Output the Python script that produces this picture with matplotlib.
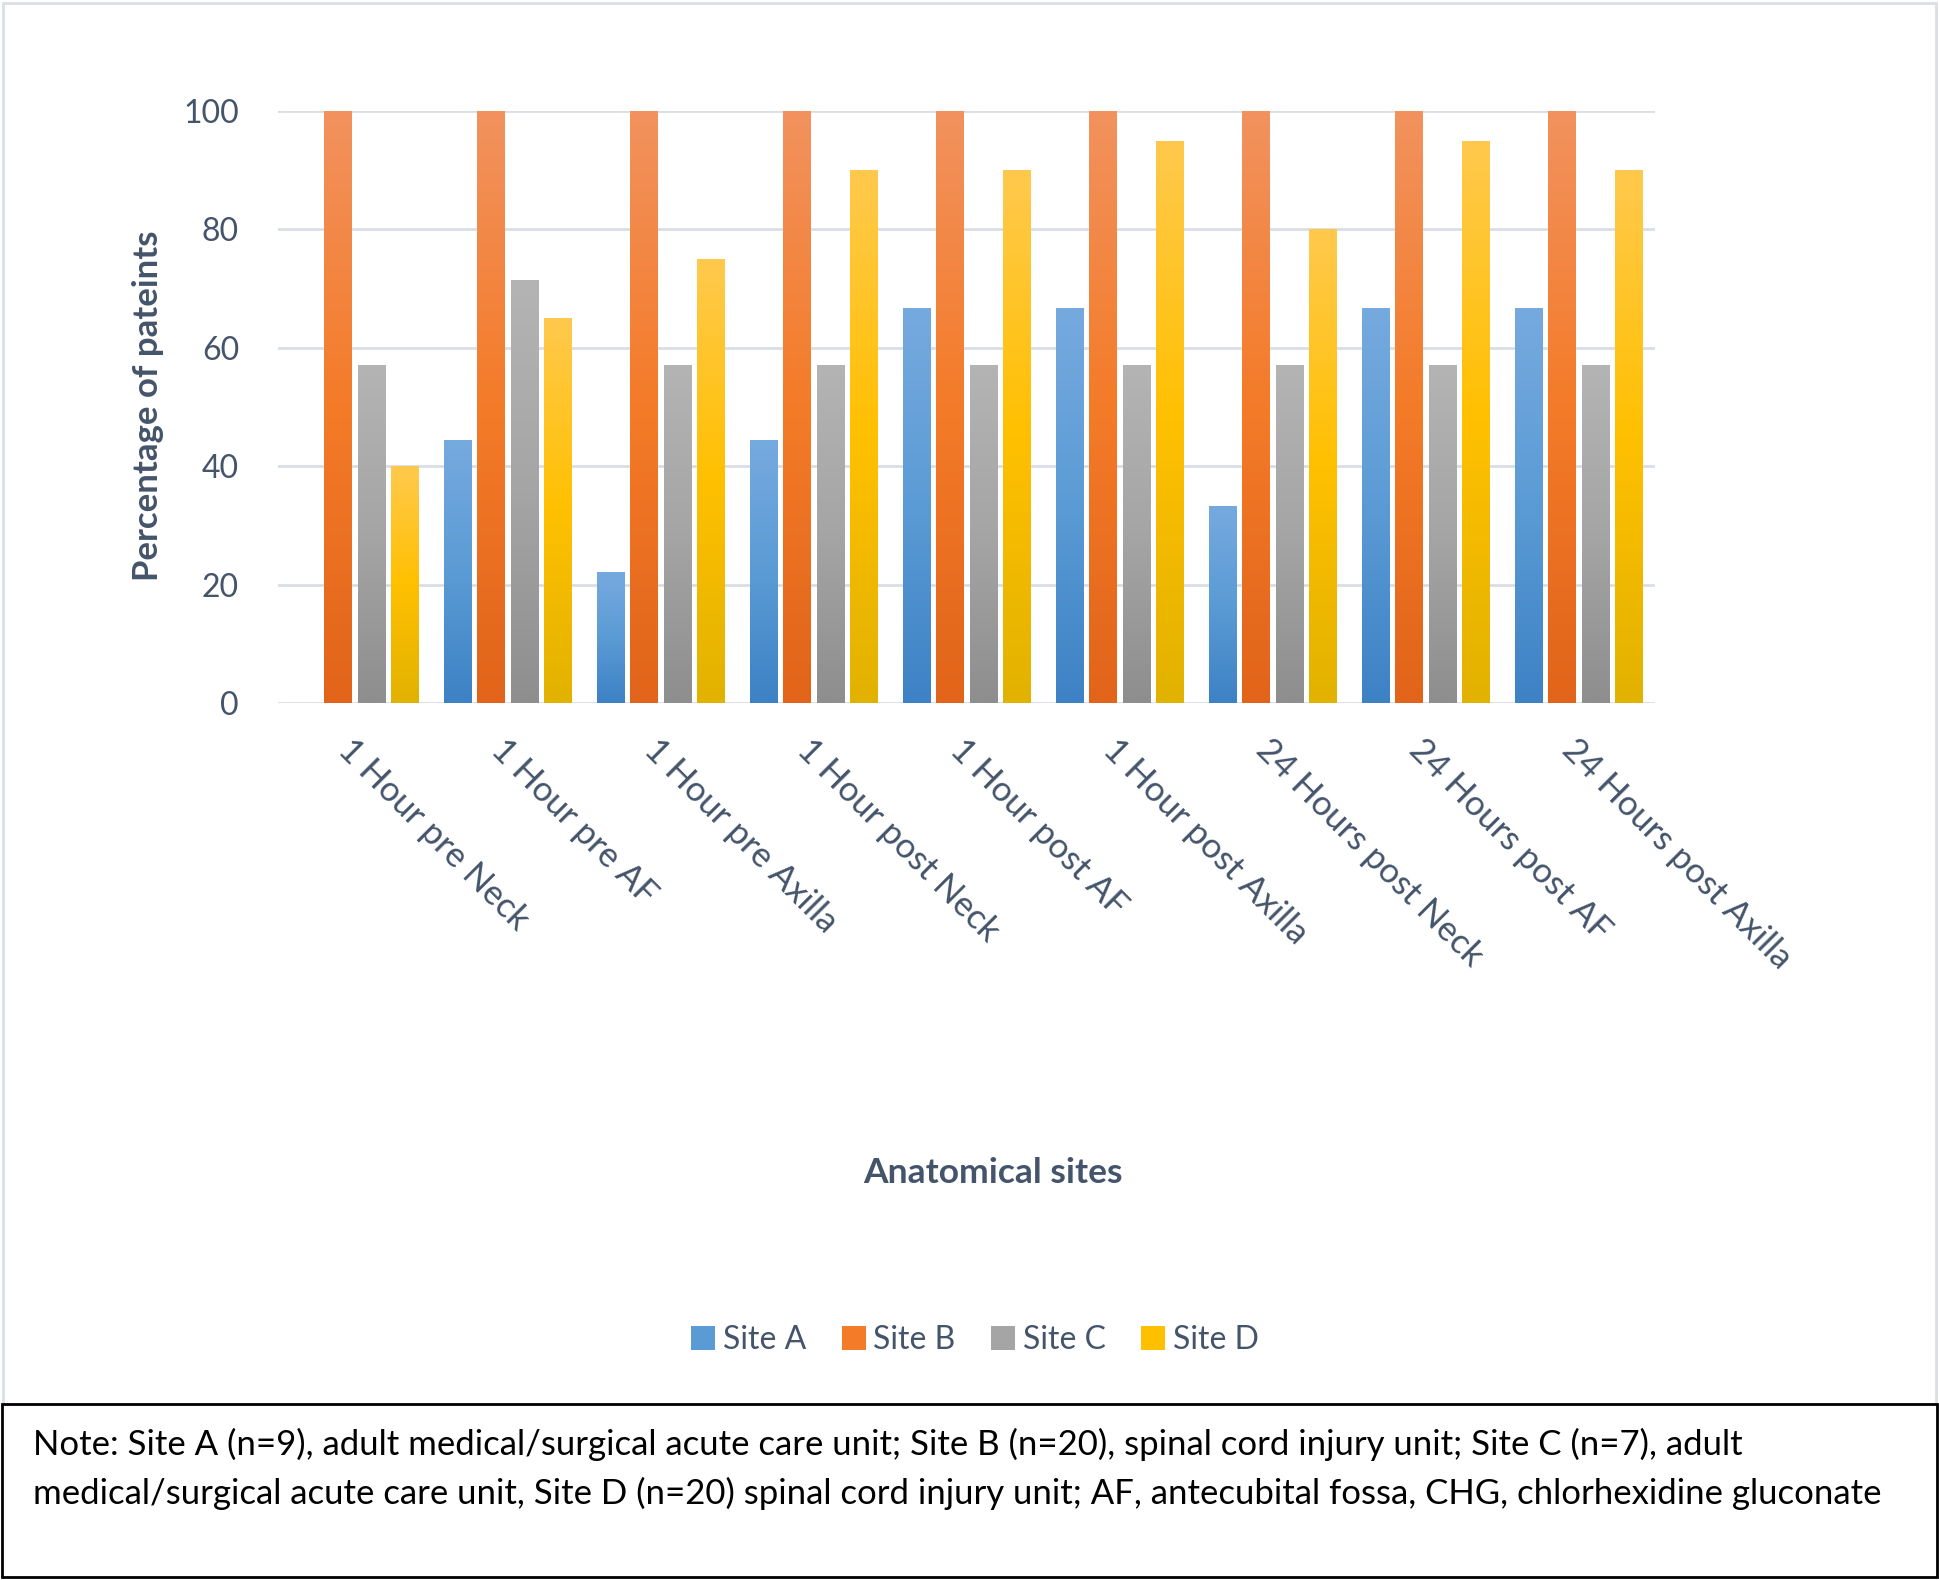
import matplotlib
matplotlib.use("Agg")
import matplotlib.pyplot as plt
import numpy as np
from matplotlib.colors import LinearSegmentedColormap
from matplotlib.patches import Rectangle, Patch

# ---------------- data ----------------
categories = ["1 Hour pre Neck", "1 Hour pre AF", "1 Hour pre Axilla",
              "1 Hour post Neck", "1 Hour post AF", "1 Hour post Axilla",
              "24 Hours post Neck", "24 Hours post AF", "24 Hours post Axilla"]
series_names = ["Site A", "Site B", "Site C", "Site D"]
site_a = [0, 44.4, 22.2, 44.4, 66.7, 66.7, 33.3, 66.7, 66.7]
site_b = [100, 100, 100, 100, 100, 100, 100, 100, 100]
site_c = [57.1, 71.4, 57.1, 57.1, 57.1, 57.1, 57.1, 57.1, 57.1]
site_d = [40, 65, 75, 90, 90, 95, 80, 95, 90]
y_ticks = [0, 20, 40, 60, 80, 100]
x_title = "Anatomical sites"
y_title = "Percentage of pateints"
note_text = ("Note: Site A (n=9), adult medical/surgical acute care unit; Site B (n=20), spinal cord injury unit; Site C (n=7), adult\n"
             "medical/surgical acute care unit, Site D (n=20) spinal cord injury unit; AF, antecubital fossa, CHG, chlorhexidine gluconate")

# gradient stops (top, middle, bottom) per series
grad_colors = [
    ["#76AADF", "#5B9BD5", "#3D82C5"],
    ["#F2925E", "#F47B28", "#E1641A"],
    ["#B4B4B4", "#A5A5A5", "#8E8E8E"],
    ["#FFC94D", "#FFC000", "#E2B200"],
]

TEXT = "#44546A"
plt.rcParams["font.family"] = ["Lato", "DejaVu Sans"]

W, H = 1940, 1580
fig = plt.figure(figsize=(W / 100, H / 100), dpi=100)
fig.patch.set_facecolor("white")

# chart frame and note box (pixel -> figure fraction)
def fr(x0, y0, x1, y1):
    return (x0 / W, 1 - y1 / H, (x1 - x0) / W, (y1 - y0) / H)

fx, fy, fw, fh = fr(3, 3, 1936, 1404)
fig.patches.append(Rectangle((fx, fy), fw, fh, transform=fig.transFigure,
                             fill=False, edgecolor="#D9DEE6", linewidth=2.0))
nx, ny, nw, nh = fr(2, 1404, 1937, 1577)
fig.patches.append(Rectangle((nx, ny), nw, nh, transform=fig.transFigure,
                             fill=False, edgecolor="black", linewidth=2.0, zorder=5))

ax_l, ax_r, ax_t, ax_b = 278, 1655, 111, 703
ax = fig.add_axes([ax_l / W, 1 - ax_b / H, (ax_r - ax_l) / W, (ax_b - ax_t) / H])

values = [site_a, site_b, site_c, site_d]
x = np.arange(len(categories))
step = 0.218
width = 0.178
grad = np.linspace(0, 1, 256).reshape(-1, 1)

for i, (name, vals, cols) in enumerate(zip(series_names, values, grad_colors)):
    cmap = LinearSegmentedColormap.from_list(name, cols)
    bars = ax.bar(x + (i - 1.5) * step, vals, width=width, color=cols[1],
                  linewidth=0, zorder=2, label=name)
    for p in bars.patches:
        x0, y0 = p.get_xy()
        w, h = p.get_width(), p.get_height()
        if h <= 0:
            continue
        im = ax.imshow(grad, cmap=cmap, extent=[x0, x0 + w, y0, y0 + h],
                       aspect="auto", origin="upper", zorder=3, interpolation="bilinear")
        im.set_clip_path(p)

ax.set_xlim(-0.5, len(categories) - 0.5)
ax.set_ylim(0, 100)
ax.set_yticks(y_ticks)
ax.set_xticks(x)
ax.set_xticklabels(categories, rotation=-45, ha="left", va="top",
                   rotation_mode="anchor", fontsize=25, color=TEXT)
ax.tick_params(axis="y", labelsize=23, labelcolor=TEXT, length=0, pad=28)
ax.tick_params(axis="x", length=0, pad=22)
ax.yaxis.grid(True, color="#D9DEE6", linewidth=2.0, zorder=0)
ax.set_axisbelow(True)
for s in ax.spines.values():
    s.set_visible(False)

fig.text(148 / W, 1 - 406 / H, y_title, rotation=90, ha="center", va="center",
         fontsize=25, fontweight="bold", color=TEXT)
fig.text(993 / W, 1 - 1173 / H, x_title, ha="center", va="center",
         fontsize=25.5, fontweight="bold", color=TEXT)

handles = [Patch(facecolor=c[1], edgecolor="none") for c in grad_colors]
fig.legend(handles, series_names, loc="center", bbox_to_anchor=(975 / W, 1 - 1340 / H),
           ncol=4, frameon=False, fontsize=23, labelcolor=TEXT,
           handlelength=0.75, handleheight=0.75, handletextpad=0.25, columnspacing=1.1)

fig.text(33 / W, 1 - 1469 / H, note_text, ha="left", va="center",
         fontsize=25, color="black", linespacing=1.6)

fig.savefig("out.png", dpi=100)
